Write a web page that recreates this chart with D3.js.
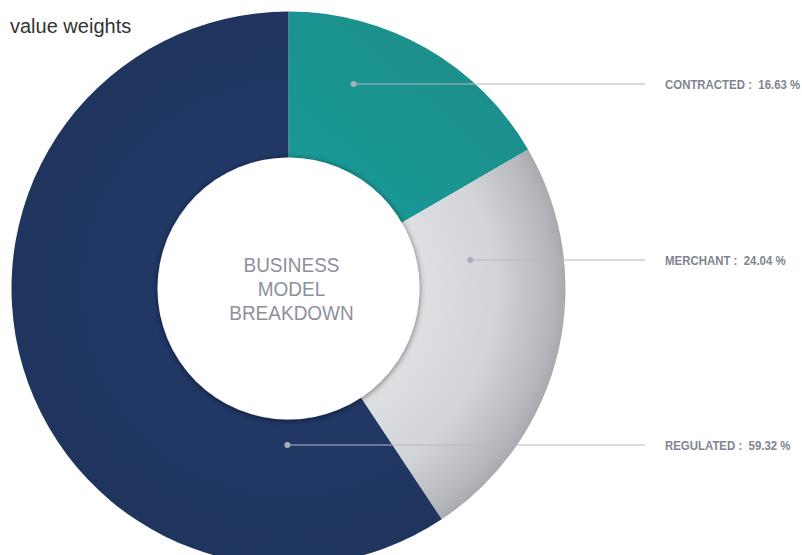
<!DOCTYPE html>
<html>
<head>
<meta charset="utf-8">
<script src="https://cdn.jsdelivr.net/npm/d3@7"></script>
<style>
  html, body { margin: 0; padding: 0; background: #fff; }
  svg { display: block; }
</style>
</head>
<body>
<svg id="chart" width="802" height="555"></svg>
<script>
// Business model shares (percent)
const categories = ["CONTRACTED", "MERCHANT", "REGULATED"];
const shares = [16.63, 24.04, 59.32];
const centerLines = ["BUSINESS", "MODEL", "BREAKDOWN"];
const title = "value weights";

const width = 802, height = 555;
const cx = 288.5, cy = 288.5;
const outerR = 277, innerR = 131;

// Annotation anchors (polar, degrees clockwise from top) and label row
const anchors = [
  { angle: 17.7, r: 214, labelY: 84 },
  { angle: 81.2, r: 184, labelY: 260 },
  { angle: 180.4, r: 157, labelY: 445 }
];
const lineEndX = 645, labelX = 665;

const svg = d3.select("#chart");
const defs = svg.append("defs");

// Slice fills (radial gradients are in the donut group's coordinates)
const teal = defs.append("linearGradient").attr("id", "g-teal")
  .attr("x1", "0").attr("y1", "1").attr("x2", "1").attr("y2", "0");
teal.append("stop").attr("offset", "0").attr("stop-color", "#179c9a");
teal.append("stop").attr("offset", "1").attr("stop-color", "#1e8a86");

const grey = defs.append("radialGradient").attr("id", "g-grey")
  .attr("gradientUnits", "userSpaceOnUse")
  .attr("cx", 0).attr("cy", 0).attr("r", outerR);
grey.append("stop").attr("offset", "0.45").attr("stop-color", "#e0e1e4");
grey.append("stop").attr("offset", "0.75").attr("stop-color", "#d3d4d7");
grey.append("stop").attr("offset", "0.95").attr("stop-color", "#b6b7bb");
grey.append("stop").attr("offset", "1").attr("stop-color", "#a9aaaf");

const navy = defs.append("radialGradient").attr("id", "g-navy")
  .attr("gradientUnits", "userSpaceOnUse")
  .attr("cx", 0).attr("cy", 0).attr("r", outerR);
navy.append("stop").attr("offset", "0.5").attr("stop-color", "#213866");
navy.append("stop").attr("offset", "1").attr("stop-color", "#1f355e");

const fills = ["url(#g-teal)", "url(#g-grey)", "url(#g-navy)"];

// Soft shadow around the hole
const sh = defs.append("filter").attr("id", "hole-shadow")
  .attr("x", "-20%").attr("y", "-20%").attr("width", "140%").attr("height", "140%");
sh.append("feGaussianBlur").attr("in", "SourceAlpha").attr("stdDeviation", 3).attr("result", "b");
sh.append("feOffset").attr("in", "b").attr("dx", 0).attr("dy", 1).attr("result", "o");
sh.append("feComponentTransfer").attr("in", "o").attr("result", "s")
  .append("feFuncA").attr("type", "linear").attr("slope", 0.55);
const m = sh.append("feMerge");
m.append("feMergeNode").attr("in", "s");
m.append("feMergeNode").attr("in", "SourceGraphic");

const pie = d3.pie().sort(null).value(d => d)(shares);
const arc = d3.arc().innerRadius(innerR - 2).outerRadius(outerR);

const g = svg.append("g").attr("transform", `translate(${cx},${cy})`);
g.selectAll("path.slice").data(pie).join("path")
  .attr("class", "slice")
  .attr("d", arc)
  .attr("fill", (d, i) => fills[i]);

// Leader lines and dots
const rad = a => a * Math.PI / 180;
const pts = anchors.map(a => ({
  x: cx + a.r * Math.sin(rad(a.angle)),
  y: cy - a.r * Math.cos(rad(a.angle)),
  ly: a.labelY
}));

svg.selectAll("line.leader").data(pts).join("line")
  .attr("class", "leader")
  .attr("x1", d => d.x).attr("y1", d => d.ly)
  .attr("x2", lineEndX).attr("y2", d => d.ly)
  .attr("stroke", "#b3b8c6").attr("stroke-width", 1);

// Hole
g.append("circle").attr("r", innerR)
  .attr("fill", "#fff")
  .attr("filter", "url(#hole-shadow)");

svg.selectAll("circle.dot").data(pts).join("circle")
  .attr("class", "dot")
  .attr("cx", d => d.x).attr("cy", d => d.ly)
  .attr("r", 3).attr("fill", "#a9aebb");

// Slice labels (condensed)
svg.selectAll("text.lab").data(pie).join("text")
  .attr("class", "lab")
  .attr("transform", (d, i) => `translate(${labelX},${anchors[i].labelY}) scale(0.86,1)`)
  .attr("dy", "0.35em")
  .attr("font-family", "'Liberation Sans', Arial, sans-serif")
  .attr("font-weight", "bold")
  .attr("font-size", 13.3)
  .attr("fill", "#7f8491")
  .attr("xml:space", "preserve")
  .text((d, i) => `${categories[i]} :  ${d3.format(".2f")(d.value)} %`);

// Center caption
svg.append("g").selectAll("text").data(centerLines).join("text")
  .attr("transform", (d, i) => `translate(${cx + 3},${cy - 24 + i * 24}) scale(0.95,1)`)
  .attr("dy", "0.35em")
  .attr("text-anchor", "middle")
  .attr("font-family", "'Liberation Sans', Arial, sans-serif")
  .attr("font-size", 20)
  .attr("fill", "#8c909c")
  .text(d => d);

// Title
svg.append("text")
  .attr("x", 10).attr("y", 33)
  .attr("font-family", "'Liberation Sans', Arial, sans-serif")
  .attr("font-size", 20)
  .attr("fill", "#333")
  .text(title);
</script>
</body>
</html>
